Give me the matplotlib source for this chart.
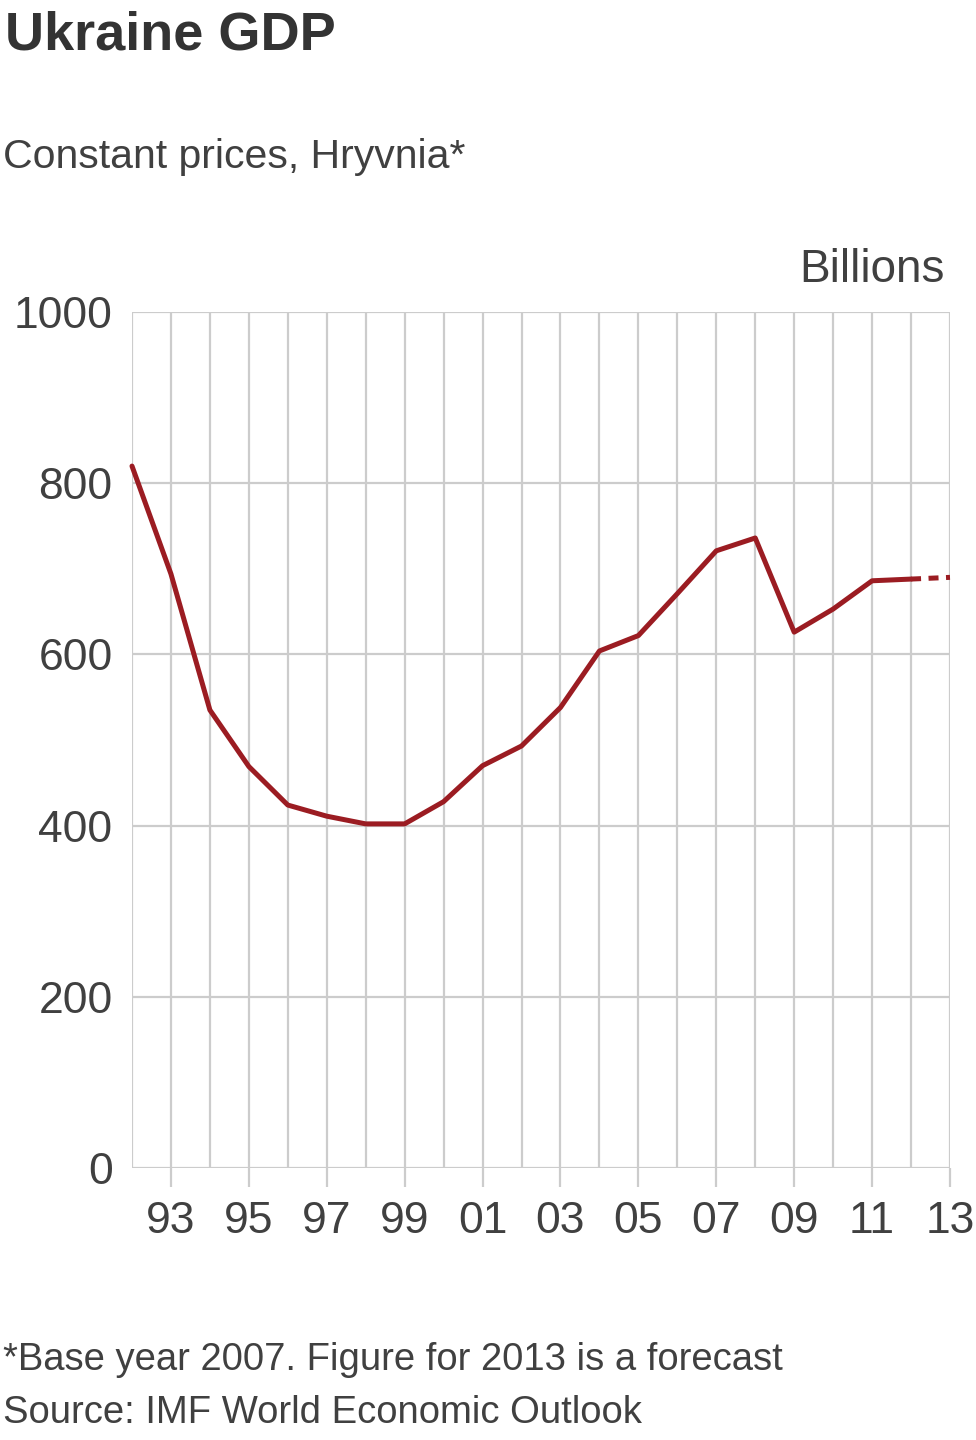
import numpy as np
import matplotlib
matplotlib.use("Agg")
import matplotlib.pyplot as plt

plt.rcParams['font.family'] = ['Liberation Sans', 'DejaVu Sans']

# Ukraine GDP, constant prices, billions of hryvnia
years = [1992, 1993, 1994, 1995, 1996, 1997, 1998, 1999, 2000, 2001, 2002,
         2003, 2004, 2005, 2006, 2007, 2008, 2009, 2010, 2011, 2012]
gdp = [820, 694, 535, 469, 424, 411, 402, 402, 428, 470, 493,
       538, 604, 622, 671, 721, 736, 626, 653, 686, 688]
forecast_years = [2012, 2013]
forecast_gdp = [688, 690]

xtick_years = list(range(1993, 2014, 2))
xtick_labels = [str(y)[2:] for y in xtick_years]
yticks = [0, 200, 400, 600, 800, 1000]

text_col = '#404040'
grid_col = '#cccccc'
line_col = '#9b1c22'

fig = plt.figure(figsize=(9.76, 14.4), dpi=100)
ax = fig.add_axes([132 / 976, 1 - 1168 / 1440, (950 - 132) / 976, (1168 - 312) / 1440])

ax.set_xlim(1992, 2013)
ax.set_ylim(0, 1000)

# grid: every year vertical, every 200 horizontal
for yr in range(1992, 2014):
    ax.axvline(yr, color=grid_col, lw=1.6, zorder=1)
for v in yticks:
    ax.axhline(v, color=grid_col, lw=1.6, zorder=1)

ax.plot(years, gdp, color=line_col, lw=3.6, solid_capstyle='round',
        solid_joinstyle='round', zorder=3, clip_on=False)
ax.plot(forecast_years, forecast_gdp, color=line_col, lw=3.6,
        dashes=(2.0, 1.5), zorder=3, clip_on=False)

for s in ax.spines.values():
    s.set_visible(False)

ax.set_xticks(xtick_years)
ax.set_xticklabels(xtick_labels)
ax.set_yticks(yticks)
ax.set_yticklabels([str(v) for v in yticks])
ax.tick_params(axis='x', length=14, width=1.6, color=grid_col, pad=10,
               labelsize=32, labelcolor=text_col)
ax.tick_params(axis='y', length=0, pad=14, labelsize=32, labelcolor=text_col)

fig.text(5 / 976, 1 - 50 / 1440, 'Ukraine GDP', fontsize=39, fontweight='bold',
         color='#333333', va='baseline', ha='left')
fig.text(3 / 976, 1 - 168 / 1440, 'Constant prices, Hryvnia*', fontsize=29.5,
         color=text_col, va='baseline', ha='left')
fig.text(945 / 976, 1 - 282 / 1440, 'Billions', fontsize=33,
         color=text_col, va='baseline', ha='right')
fig.text(3 / 976, 1 - 1370 / 1440, '*Base year 2007. Figure for 2013 is a forecast',
         fontsize=27.5, color=text_col, va='baseline', ha='left')
fig.text(3 / 976, 1 - 1423 / 1440, 'Source: IMF World Economic Outlook',
         fontsize=27.5, color=text_col, va='baseline', ha='left')

fig.savefig('out.png', dpi=100, facecolor='white')
